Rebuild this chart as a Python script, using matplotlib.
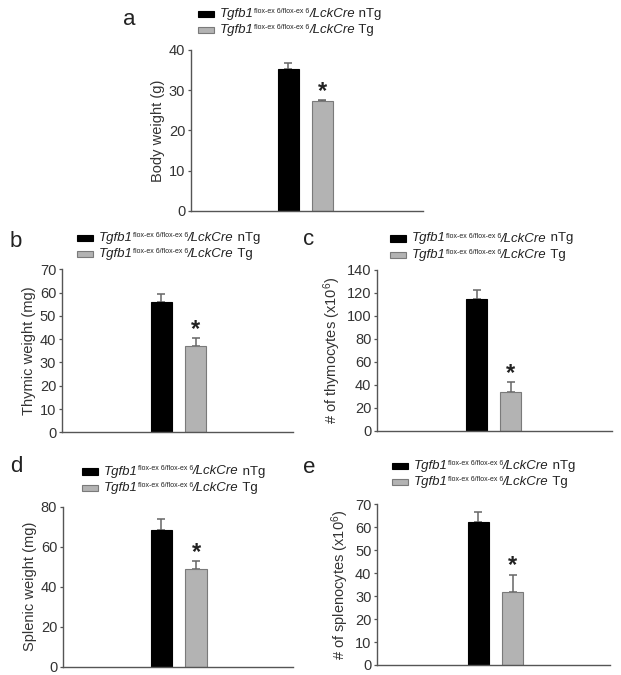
import matplotlib
matplotlib.use('Agg')
import matplotlib.pyplot as plt
from matplotlib.patches import Rectangle
from matplotlib.offsetbox import TextArea, HPacker, VPacker, DrawingArea, AnchoredOffsetbox

plt.rcParams['font.family'] = 'Liberation Sans'
plt.rcParams['mathtext.fontset'] = 'custom'
plt.rcParams['mathtext.rm'] = 'Liberation Sans'
plt.rcParams['mathtext.it'] = 'Liberation Sans:italic'

# datos (media y error superior)
grupos = ['nTg', 'Tg']
peso_corporal = [35.3, 27.3]
peso_corporal_err = [1.4, 0.3]
peso_timo = [56.1, 36.9]
peso_timo_err = [3.3, 3.6]
timocitos = [115.0, 33.6]
timocitos_err = [7.6, 9.3]
peso_bazo = [68.5, 48.8]
peso_bazo_err = [5.2, 4.0]
esplenocitos = [62.4, 31.9]
esplenocitos_err = [4.3, 7.5]

ylabels = ['Body weight (g)', 'Thymic weight (mg)', '# of thymocytes (x10$^{6}$)',
           'Splenic weight (mg)', '# of splenocytes (x10$^{6}$)']
ymax = [40, 70, 140, 80, 70]
ypaso = [10, 10, 20, 20, 10]
letras = ['a', 'b', 'c', 'd', 'e']
superindice = 'flox-ex 6/flox-ex 6'

W, H = 621, 675
fig = plt.figure(figsize=(W / 100, H / 100), dpi=100)

# posicion de cada panel en pixeles: izquierda, derecha, arriba, abajo
paneles = [
    (190.7, 422.7, 50.0, 211.0),
    (61.7, 293.0, 269.3, 432.3),
    (377.0, 612.0, 270.0, 431.0),
    (62.7, 293.0, 506.7, 666.7),
    (377.0, 610.0, 504.3, 665.0),
]
limites_x = [(-2.87, 3.95), (-2.9, 3.84), (-2.95, 4.0), (-2.85, 3.8), (-2.95, 3.84)]
leyendas = [(198.3, 8.0), (77.0, 232.0), (390.0, 232.5), (82.0, 465.5), (392.0, 460.0)]
posicion_letra = [(122.7, 25.0), (10.0, 246.7), (302.7, 245.0), (10.0, 471.7), (303.0, 473.0)]

colores = ['black', '#b3b3b3']
bordes = ['black', '#7a7a7a']


def fila_leyenda(color, borde, sufijo):
    caja = DrawingArea(11.5, 4.5)
    caja.add_artist(Rectangle((0, 0), 11.5, 4.5, facecolor=color, edgecolor=borde, lw=0.8))
    partes = [TextArea('Tgfb1', textprops=dict(fontsize=9.5, style='italic', color='#222222')),
              TextArea(superindice, textprops=dict(fontsize=5.0, color='#222222')),
              TextArea('/LckCre', textprops=dict(fontsize=9.5, style='italic', color='#222222')),
              TextArea(' ' + sufijo, textprops=dict(fontsize=9.5, color='#222222'))]
    texto = HPacker(children=partes, align='top', pad=0, sep=0)
    return HPacker(children=[caja, texto], align='center', pad=0, sep=4.3)


series = [(peso_corporal, peso_corporal_err), (peso_timo, peso_timo_err),
          (timocitos, timocitos_err), (peso_bazo, peso_bazo_err),
          (esplenocitos, esplenocitos_err)]

for i, (valores, errores) in enumerate(series):
    izq, der, arr, aba = paneles[i]
    ax = fig.add_axes([izq / W, 1 - aba / H, (der - izq) / W, (aba - arr) / H])
    x = list(range(len(grupos)))
    ax.bar(x, valores, width=0.62, color=colores, edgecolor=bordes, linewidth=0.8, zorder=2)
    ax.errorbar(x, valores, yerr=[[0] * len(errores), errores], fmt='none',
                ecolor='#666666', elinewidth=1.1, capsize=3, capthick=1.1, zorder=1)
    # asterisco sobre el grupo Tg
    ax.annotate('*', (1, valores[1] + errores[1]), xytext=(0, 1.5), textcoords='offset points',
                ha='center', va='baseline', fontsize=17, fontweight='bold', color='#222222')
    ax.set_xlim(limites_x[i])
    ax.set_ylim(0, ymax[i])
    ax.set_yticks(range(0, ymax[i] + 1, ypaso[i]))
    ax.set_xticks([])
    for lado in ['top', 'right']:
        ax.spines[lado].set_visible(False)
    for lado in ['left', 'bottom']:
        ax.spines[lado].set_color('#555555')
        ax.spines[lado].set_linewidth(1.0)
    ax.tick_params(axis='y', length=2.5, width=0.9, color='#555555', pad=1.5,
                   labelsize=10.5, labelcolor='#333333')
    ax.set_ylabel(ylabels[i], fontsize=10.5, color='#333333', labelpad=3)

    filas = [fila_leyenda(colores[0], bordes[0], 'nTg'), fila_leyenda(colores[1], bordes[1], 'Tg')]
    bloque = VPacker(children=filas, align='left', pad=0, sep=3.0)
    lx, ly = leyendas[i]
    caja_leyenda = AnchoredOffsetbox(loc='upper left', child=bloque, pad=0, borderpad=0,
                                     frameon=False, bbox_to_anchor=(lx / W, 1 - ly / H),
                                     bbox_transform=fig.transFigure)
    ax.add_artist(caja_leyenda)

    px, py = posicion_letra[i]
    fig.text(px / W, 1 - py / H, letras[i], fontsize=16, ha='left', va='baseline', color='#222222')

fig.savefig('out.png', dpi=100)
